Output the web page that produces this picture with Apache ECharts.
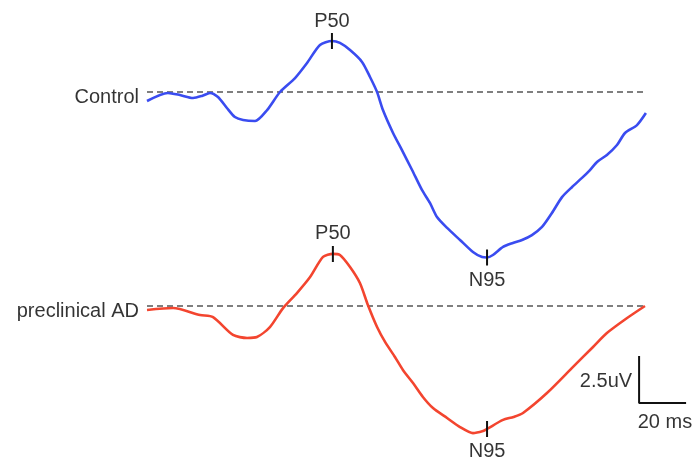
<!DOCTYPE html>
<html>
<head>
<meta charset="utf-8">
<script src="https://cdn.jsdelivr.net/npm/echarts@6/dist/echarts.min.js"></script>
<style>
  html, body { margin: 0; padding: 0; background: #fff; }
  #chart { width: 696px; height: 460px; }
</style>
</head>
<body>
<div id="chart"></div>
<script>
// PERG waveforms: time in ms from sweep start, amplitude in uV relative to baseline
const groupNames = ['Control', 'preclinical AD'];

const controlTime = [0, 8.9, 14.0, 19.6, 23.4, 26.8, 30.2, 34.0, 37.4, 40.9, 46.0, 51.1, 56.6, 63.0, 68.1, 73.6, 78.7, 82.1, 86.4, 91.5, 94.9, 97.9, 100.4, 104.7, 108.5, 112.8, 117.0, 120.4, 123.4, 127.7, 133.2, 138.7, 142.6, 144.7, 147.2, 151.5, 155.7, 159.6, 163.8, 168.1, 172.3, 176.6, 180.9, 185.1, 188.5, 191.5, 195.7, 200.0, 203.4, 208.5, 212.3];
const controlUv = [-0.48, -0.05, -0.16, -0.32, -0.21, -0.05, -0.27, -0.85, -1.33, -1.49, -1.54, -0.96, 0, 0.74, 1.54, 2.50, 2.71, 2.61, 2.23, 1.60, 0.80, 0, -0.96, -2.18, -3.09, -4.15, -5.21, -5.90, -6.65, -7.23, -7.87, -8.51, -8.78, -8.80, -8.67, -8.24, -8.03, -7.87, -7.61, -7.18, -6.44, -5.59, -5.05, -4.57, -4.15, -3.72, -3.35, -2.82, -2.18, -1.76, -1.12];

const adTime = [0, 11.1, 22.6, 28.1, 36.6, 42.6, 46.8, 52.3, 57.9, 63.8, 69.4, 74.9, 79.1, 82.1, 86.4, 90.6, 94.0, 97.9, 101.3, 105.5, 108.9, 113.2, 117.4, 121.7, 127.7, 133.2, 138.7, 143.0, 144.7, 151.5, 156.0, 160.0, 170.2, 181.3, 189.8, 195.7, 204.3, 211.9];
const adUv = [-0.21, -0.11, -0.48, -0.59, -1.54, -1.70, -1.65, -1.12, -0.11, 0.69, 1.54, 2.61, 2.77, 2.71, 2.07, 1.22, 0.05, -1.12, -1.91, -2.71, -3.40, -4.10, -4.84, -5.43, -5.96, -6.44, -6.76, -6.65, -6.54, -6.06, -5.90, -5.69, -4.63, -3.24, -2.18, -1.44, -0.64, 0];

const peakNames = ['P50', 'N95'];
const controlPeakTime = [78.7, 144.7];
const controlPeakUv = [2.71, -8.80];
const adPeakTime = [79.1, 144.7];
const adPeakUv = [2.77, -6.54];

const scaleBarMs = 20;
const scaleBarUv = 2.5;
const scaleBarLabels = ['2.5uV', '20 ms'];

// layout: 2.35 px per ms, 18.8 px per uV in both panels
const PX_MS = 2.35, PX_UV = 18.8;
const X_MAX = 232;
const panels = [
  { yMin: -10, yMax: 4, base: 92 },
  { yMin: -8, yMax: 4, base: 306 }
];

const FONT = '"Liberation Sans", Arial, sans-serif';
const textStyle = { color: '#000', fontSize: 20, fontFamily: FONT };
const sweepEnd = 212.5;

function zip(t, v) { return t.map((x, i) => [x, v[i]]); }

const grids = panels.map(p => ({
  left: 147,
  width: X_MAX * PX_MS,
  top: p.base - p.yMax * PX_UV,
  height: (p.yMax - p.yMin) * PX_UV
}));
const xAxes = panels.map((p, i) => ({
  type: 'value', gridIndex: i, min: 0, max: X_MAX, show: false
}));
const yAxes = panels.map((p, i) => ({
  type: 'value', gridIndex: i, min: p.yMin, max: p.yMax, show: false
}));

const traces = [
  { name: groupNames[0], t: controlTime, v: controlUv, color: '#3a4cf0', pt: controlPeakTime, pv: controlPeakUv },
  { name: groupNames[1], t: adTime, v: adUv, color: '#f3452f', pt: adPeakTime, pv: adPeakUv }
];

const series = [];
const TICK_HALF = 8 / PX_UV;

traces.forEach((tr, i) => {
  // baseline
  series.push({
    type: 'line', xAxisIndex: i, yAxisIndex: i, symbol: 'none', silent: true,
    data: [[0, 0], [sweepEnd, 0]],
    lineStyle: { color: '#555', width: 1.6, type: [6, 4] }
  });
  // waveform
  series.push({
    type: 'line', name: tr.name, xAxisIndex: i, yAxisIndex: i, symbol: 'none',
    smooth: 0.25, data: zip(tr.t, tr.v),
    lineStyle: { color: tr.color, width: 2.6 }
  });
  // group label at sweep start
  series.push({
    type: 'scatter', xAxisIndex: i, yAxisIndex: i, symbolSize: 0,
    data: [{ value: [0, -0.3], name: tr.name }],
    label: { show: true, position: 'left', distance: 8, formatter: '{b}', ...textStyle }
  });
  // peak tick marks and names
  tr.pt.forEach((t, k) => {
    series.push({
      type: 'line', xAxisIndex: i, yAxisIndex: i, symbol: 'none',
      data: [[t, tr.pv[k] - TICK_HALF], [t, tr.pv[k] + TICK_HALF]],
      lineStyle: { color: '#111', width: 2 }
    });
    series.push({
      type: 'scatter', xAxisIndex: i, yAxisIndex: i, symbolSize: 0,
      data: [{ value: [t, tr.pv[k]], name: peakNames[k] }],
      label: {
        show: true, formatter: '{b}',
        position: k === 0 ? 'top' : 'bottom',
        distance: k === 0 ? 10 : 13,
        ...textStyle
      }
    });
  });
});

// calibration bar in the lower panel
const sbT = 209.4, sbV = -5.16;
series.push({
  type: 'line', xAxisIndex: 1, yAxisIndex: 1, symbol: 'none',
  data: [[sbT, sbV + scaleBarUv], [sbT, sbV], [sbT + scaleBarMs, sbV]],
  lineStyle: { color: '#111', width: 2 }, clip: false
});
series.push({
  type: 'scatter', xAxisIndex: 1, yAxisIndex: 1, symbolSize: 0,
  data: [
    { value: [sbT, sbV + scaleBarUv / 2 - 0.1], name: scaleBarLabels[0], label: { position: 'left', distance: 7 } },
    { value: [sbT + scaleBarMs / 2 + 1, sbV], name: scaleBarLabels[1], label: { position: 'bottom', distance: 9 } }
  ],
  label: { show: true, formatter: '{b}', ...textStyle }
});

const chart = echarts.init(document.getElementById('chart'), null, { renderer: 'canvas' });
chart.setOption({
  animation: false,
  backgroundColor: '#fff',
  grid: grids,
  xAxis: xAxes,
  yAxis: yAxes,
  series: series
});
</script>
</body>
</html>
